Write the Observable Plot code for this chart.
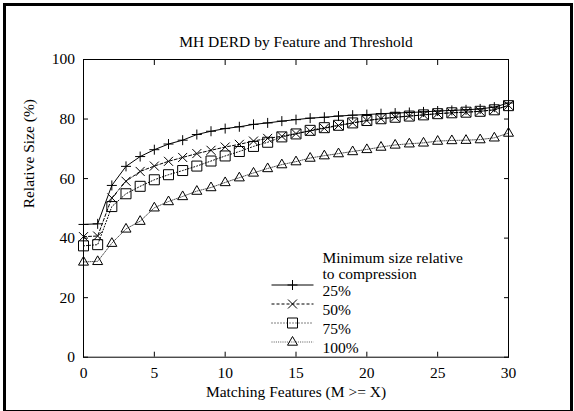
<!DOCTYPE html>
<html><head><meta charset="utf-8">
<script src="https://cdn.jsdelivr.net/npm/d3@7"></script>
<script src="https://cdn.jsdelivr.net/npm/@observablehq/plot@0.6"></script>
<style>
html,body{margin:0;padding:0;background:#fff;}
#wrap{position:relative;width:574px;height:411px;overflow:hidden;background:#fff;}
#wrap svg{display:block;font-family:"Liberation Serif","Times New Roman",serif !important;font-size:15.5px !important;}
#wrap svg text{font-family:"Liberation Serif","Times New Roman",serif !important;}
#border{position:absolute;left:3px;top:3px;width:570px;height:410px;border:3px solid #000;box-sizing:border-box;pointer-events:none;}
</style></head><body>
<div id="wrap"><div id="border"></div></div>
<script>
// ---- data ----
const features = [0,1,2,3,4,5,6,7,8,9,10,11,12,13,14,15,16,17,18,19,20,21,22,23,24,25,26,27,28,29,30];
const s25  = [44.6,44.8,57.7,64.1,67.4,69.7,71.6,72.9,74.8,75.9,76.8,77.4,78.2,78.7,79.3,79.8,80.3,80.6,81.0,81.3,81.5,81.8,82.0,82.2,82.4,82.7,82.9,83.1,83.4,84.0,85.4];
const s50  = [40.5,40.7,53.5,59.1,62.4,64.2,65.8,67.1,68.4,69.5,70.6,71.5,72.6,73.5,74.2,75.1,76.0,76.9,77.8,78.7,79.5,80.1,80.6,81.0,81.4,81.8,82.1,82.3,82.6,83.1,84.6];
const s75  = [37.4,37.8,50.6,54.9,57.4,59.6,61.3,62.7,64.2,65.9,67.6,69.1,70.8,72.2,74.0,75.0,76.2,77.1,77.9,78.7,79.5,80.1,80.6,81.0,81.4,81.8,82.1,82.3,82.6,83.1,84.5];
const s100 = [32.0,32.2,38.3,43.1,45.7,50.2,52.3,54.0,55.8,57.0,58.7,60.3,61.9,63.4,64.7,65.7,66.9,67.7,68.4,69.1,69.8,70.6,71.3,71.7,72.0,72.6,72.8,72.9,73.1,73.7,75.3];
const seriesNames = ["25%","50%","75%","100%"];
const legendTitle = ["Minimum size relative","to compression"];
const xTicks = [0,5,10,15,20,25,30];
const yTicks = [0,20,40,60,80,100];
const title = "MH DERD by Feature and Threshold";
const xLabel = "Matching Features (M >= X)";
const yLabel = "Relative Size (%)";

// ---- styles ----
const values = [s25, s50, s75, s100];
const dashes = [null, "3,2", "1,2", "1,1.2"];
const strokes = ["#000", "#000", "#000", "#555"];
const symPlus = {draw(c){const r=5;c.moveTo(-r,0);c.lineTo(r,0);c.moveTo(0,-r);c.lineTo(0,r);}};
const symTimes = {draw(c){const r=4.5;c.moveTo(-r,-r);c.lineTo(r,r);c.moveTo(-r,r);c.lineTo(r,-r);}};
const symSquare = {draw(c){const r=5;c.moveTo(-r,-r);c.lineTo(r,-r);c.lineTo(r,r);c.lineTo(-r,r);c.closePath();}};
const symTri = {draw(c){c.moveTo(0,-5.5);c.lineTo(5,3.2);c.lineTo(-5,3.2);c.closePath();}};
const symbols = [symPlus, symTimes, symSquare, symTri];
const legendLine = {draw(c){c.moveTo(-21,0);c.lineTo(21,0);}};

const tables = values.map((vals, i) => features.map((f, j) => ({feature: f, size: vals[j], series: seriesNames[i]})));

const marks = [];
tables.forEach((tab, i) => {
  marks.push(Plot.line(tab, {x: "feature", y: "size", stroke: strokes[i], strokeWidth: 1, strokeDasharray: dashes[i]}));
  marks.push(Plot.dot(tab, {x: "feature", y: "size", symbol: () => symbols[i], fill: "none", stroke: "#000", strokeWidth: 1}));
});
// legend
legendTitle.forEach((t, k) => {
  marks.push(Plot.text([t], {text: d => d, frameAnchor: "top-left", dx: 239, dy: 192 + 16 * k, textAnchor: "start"}));
});
seriesNames.forEach((name, i) => {
  const dy = 225.5 + 19 * i;
  marks.push(Plot.dot([name], {frameAnchor: "top-left", dx: 209, dy, symbol: () => legendLine, fill: "none", stroke: strokes[i], strokeWidth: 1, strokeDasharray: dashes[i]}));
  marks.push(Plot.dot([name], {frameAnchor: "top-left", dx: 209, dy, symbol: () => symbols[i], fill: "none", stroke: "#000", strokeWidth: 1}));
  marks.push(Plot.text([name], {text: d => d, frameAnchor: "top-left", dx: 239, dy, textAnchor: "start"}));
});
// axes & frame
marks.push(
  Plot.axisX({anchor: "bottom", ticks: xTicks, tickSize: -5, tickPadding: 14.5, label: null}),
  Plot.axisX({anchor: "top", ticks: xTicks, tickSize: -5, tickFormat: () => "", label: null}),
  Plot.axisY({anchor: "left", ticks: yTicks, tickSize: -5, tickPadding: 13.4, label: null}),
  Plot.axisY({anchor: "right", ticks: yTicks, tickSize: -5, tickFormat: () => "", label: null}),
  Plot.frame({stroke: "#000"}),
  Plot.text([title], {text: d => d, frameAnchor: "top", dy: -23.4}),
  Plot.text([xLabel], {text: d => d, frameAnchor: "bottom", dy: 40}),
  Plot.text([yLabel], {text: d => d, frameAnchor: "left", rotate: -90, dx: -54.3})
);

const chart = Plot.plot({
  width: 574, height: 411,
  marginLeft: 83, marginRight: 66, marginTop: 59, marginBottom: 54.3,
  x: {domain: [0, 30]},
  y: {domain: [0, 100]},
  style: {background: "#fff", color: "#000"},
  marks
});
document.getElementById("wrap").prepend(chart);
</script>
</body></html>
